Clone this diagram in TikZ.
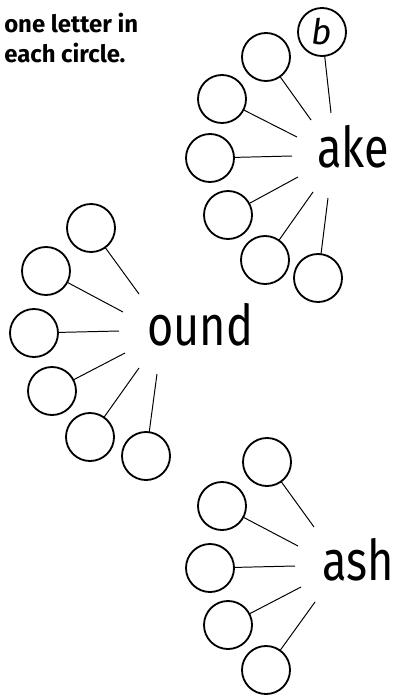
\documentclass[tikz,border=0pt]{standalone}
\usepackage{fontspec}
\setmainfont{Fira Sans}
\newfontfamily\stemfont[FakeStretch=0.8]{Fira Sans}
\begin{document}
\begin{tikzpicture}[x=0.025cm, y=-0.025cm,
    ring/.style={circle, draw, line width=1.3pt, minimum size=1.2cm, inner sep=0pt, outer sep=0pt},
    spoke/.style={line width=0.7pt},
    stem/.style={font=\stemfont\fontsize{40}{44}\selectfont, inner sep=0pt, anchor=base west}]
  \useasboundingbox (0,0) rectangle (395,695);

  % ---- heading ----
  \node[font=\bfseries\fontsize{17}{21.3}\selectfont, align=left, anchor=north west, inner sep=0pt]
    (head) at (4,13) {one letter in\\each circle.};

  % ---- ake ----
  \node[stem] (ake) at (317,168) {ake};
  \foreach \i/\x/\y/\ex/\ey in {%
    1/322/32/331/113, 2/266/57/311/120, 3/222/99/297/137, 4/210/158/292/156,%
    5/228/215/298/177, 6/265/260/313/192, 7/318/278/328/198}{%
    \node[ring] (ake\i) at (\x,\y) {};
    \coordinate (ake-end\i) at (\ex,\ey);
    \draw[spoke] (ake\i) -- (ake-end\i);
  }
  \node[font=\itshape\fontsize{25}{30}\selectfont, inner sep=0pt] (bee) at (ake1) {b};

  % ---- ound ----
  \node[stem] (ound) at (147,345) {ound};
  \foreach \i/\x/\y/\ex/\ey in {%
    1/91/228/139/294, 2/46/271/123/312, 3/34/333/119/331,%
    4/52/391/125/353, 5/90/437/139/368, 6/146/456/157/374}{%
    \node[ring] (ound\i) at (\x,\y) {};
    \coordinate (ound-end\i) at (\ex,\ey);
    \draw[spoke] (ound\i) -- (ound-end\i);
  }

  % ---- ash ----
  \node[stem] (ash) at (322,580) {ash};
  \foreach \i/\x/\y/\ex/\ey in {%
    1/267/462/314/527, 2/222/506/298/546, 3/210/568/295/566,%
    4/228/625/301/587, 5/266/670/315/602}{%
    \node[ring] (ash\i) at (\x,\y) {};
    \coordinate (ash-end\i) at (\ex,\ey);
    \draw[spoke] (ash\i) -- (ash-end\i);
  }
\end{tikzpicture}
\end{document}
